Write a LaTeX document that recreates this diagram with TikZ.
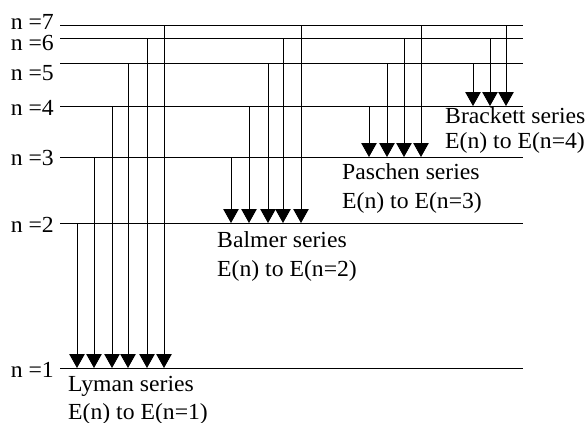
\documentclass[tikz,border=0pt]{standalone}
\usepackage{fontspec}
\setmainfont{Liberation Serif}[FakeStretch=1.03]
\usetikzlibrary{arrows.meta}
\begin{document}
\begin{tikzpicture}[x=1pt,y=-1pt,
  level/.style={line width=1pt},
  trans/.style={line width=0.9pt,-{Triangle[width=15.5pt,length=14pt]}},
  lbl/.style={font=\fontsize{23}{28}\selectfont,inner sep=0pt}]
\useasboundingbox (0,0) rectangle (587,423);
% energy levels: left end (a) and right end (b)
\foreach \n/\y in {1/368,2/223,3/157,4/106,5/63,6/38,7/25} {
  \coordinate (a\n) at (60,\y);
  \coordinate (b\n) at (523,\y);
  \draw[level] (a\n) -- (b\n);
}
% level labels
\foreach \n/\yb in {1/377,2/232,3/165,4/115,5/80,6/50,7/29}
  \node[lbl,anchor=base east] (lab\n) at (54,\yb) {n =\n};
% Lyman transitions
\foreach \f/\x in {2/77,3/94,4/112,5/128,6/147,7/164}
  \draw[trans] (\x,0 |- a\f) -- (\x,0 |- a1);
% Balmer transitions
\foreach \f/\x in {3/231,4/249,5/268,6/283,7/301}
  \draw[trans] (\x,0 |- a\f) -- (\x,0 |- a2);
% Paschen transitions
\foreach \f/\x in {4/369,5/387,6/404,7/421}
  \draw[trans] (\x,0 |- a\f) -- (\x,0 |- a3);
% Brackett transitions
\foreach \f/\x in {5/473,6/490,7/506}
  \draw[trans] (\x,0 |- a\f) -- (\x,0 |- a4);
% series captions
\node[lbl,anchor=base west] (lyman) at (68,391) {Lyman series};
\node[lbl,anchor=base west] (lymanE) at (68,419) {E(n) to E(n=1)};
\node[lbl,anchor=base west] (balmer) at (217,247) {Balmer series};
\node[lbl,anchor=base west] (balmerE) at (217,276) {E(n) to E(n=2)};
\node[lbl,anchor=base west] (paschen) at (342,179) {Paschen series};
\node[lbl,anchor=base west] (paschenE) at (342,208) {E(n) to E(n=3)};
\node[lbl,anchor=base west] (brackett) at (445,123) {Brackett series};
\node[lbl,anchor=base west] (brackettE) at (445,148) {E(n) to E(n=4)};
\end{tikzpicture}
\end{document}
